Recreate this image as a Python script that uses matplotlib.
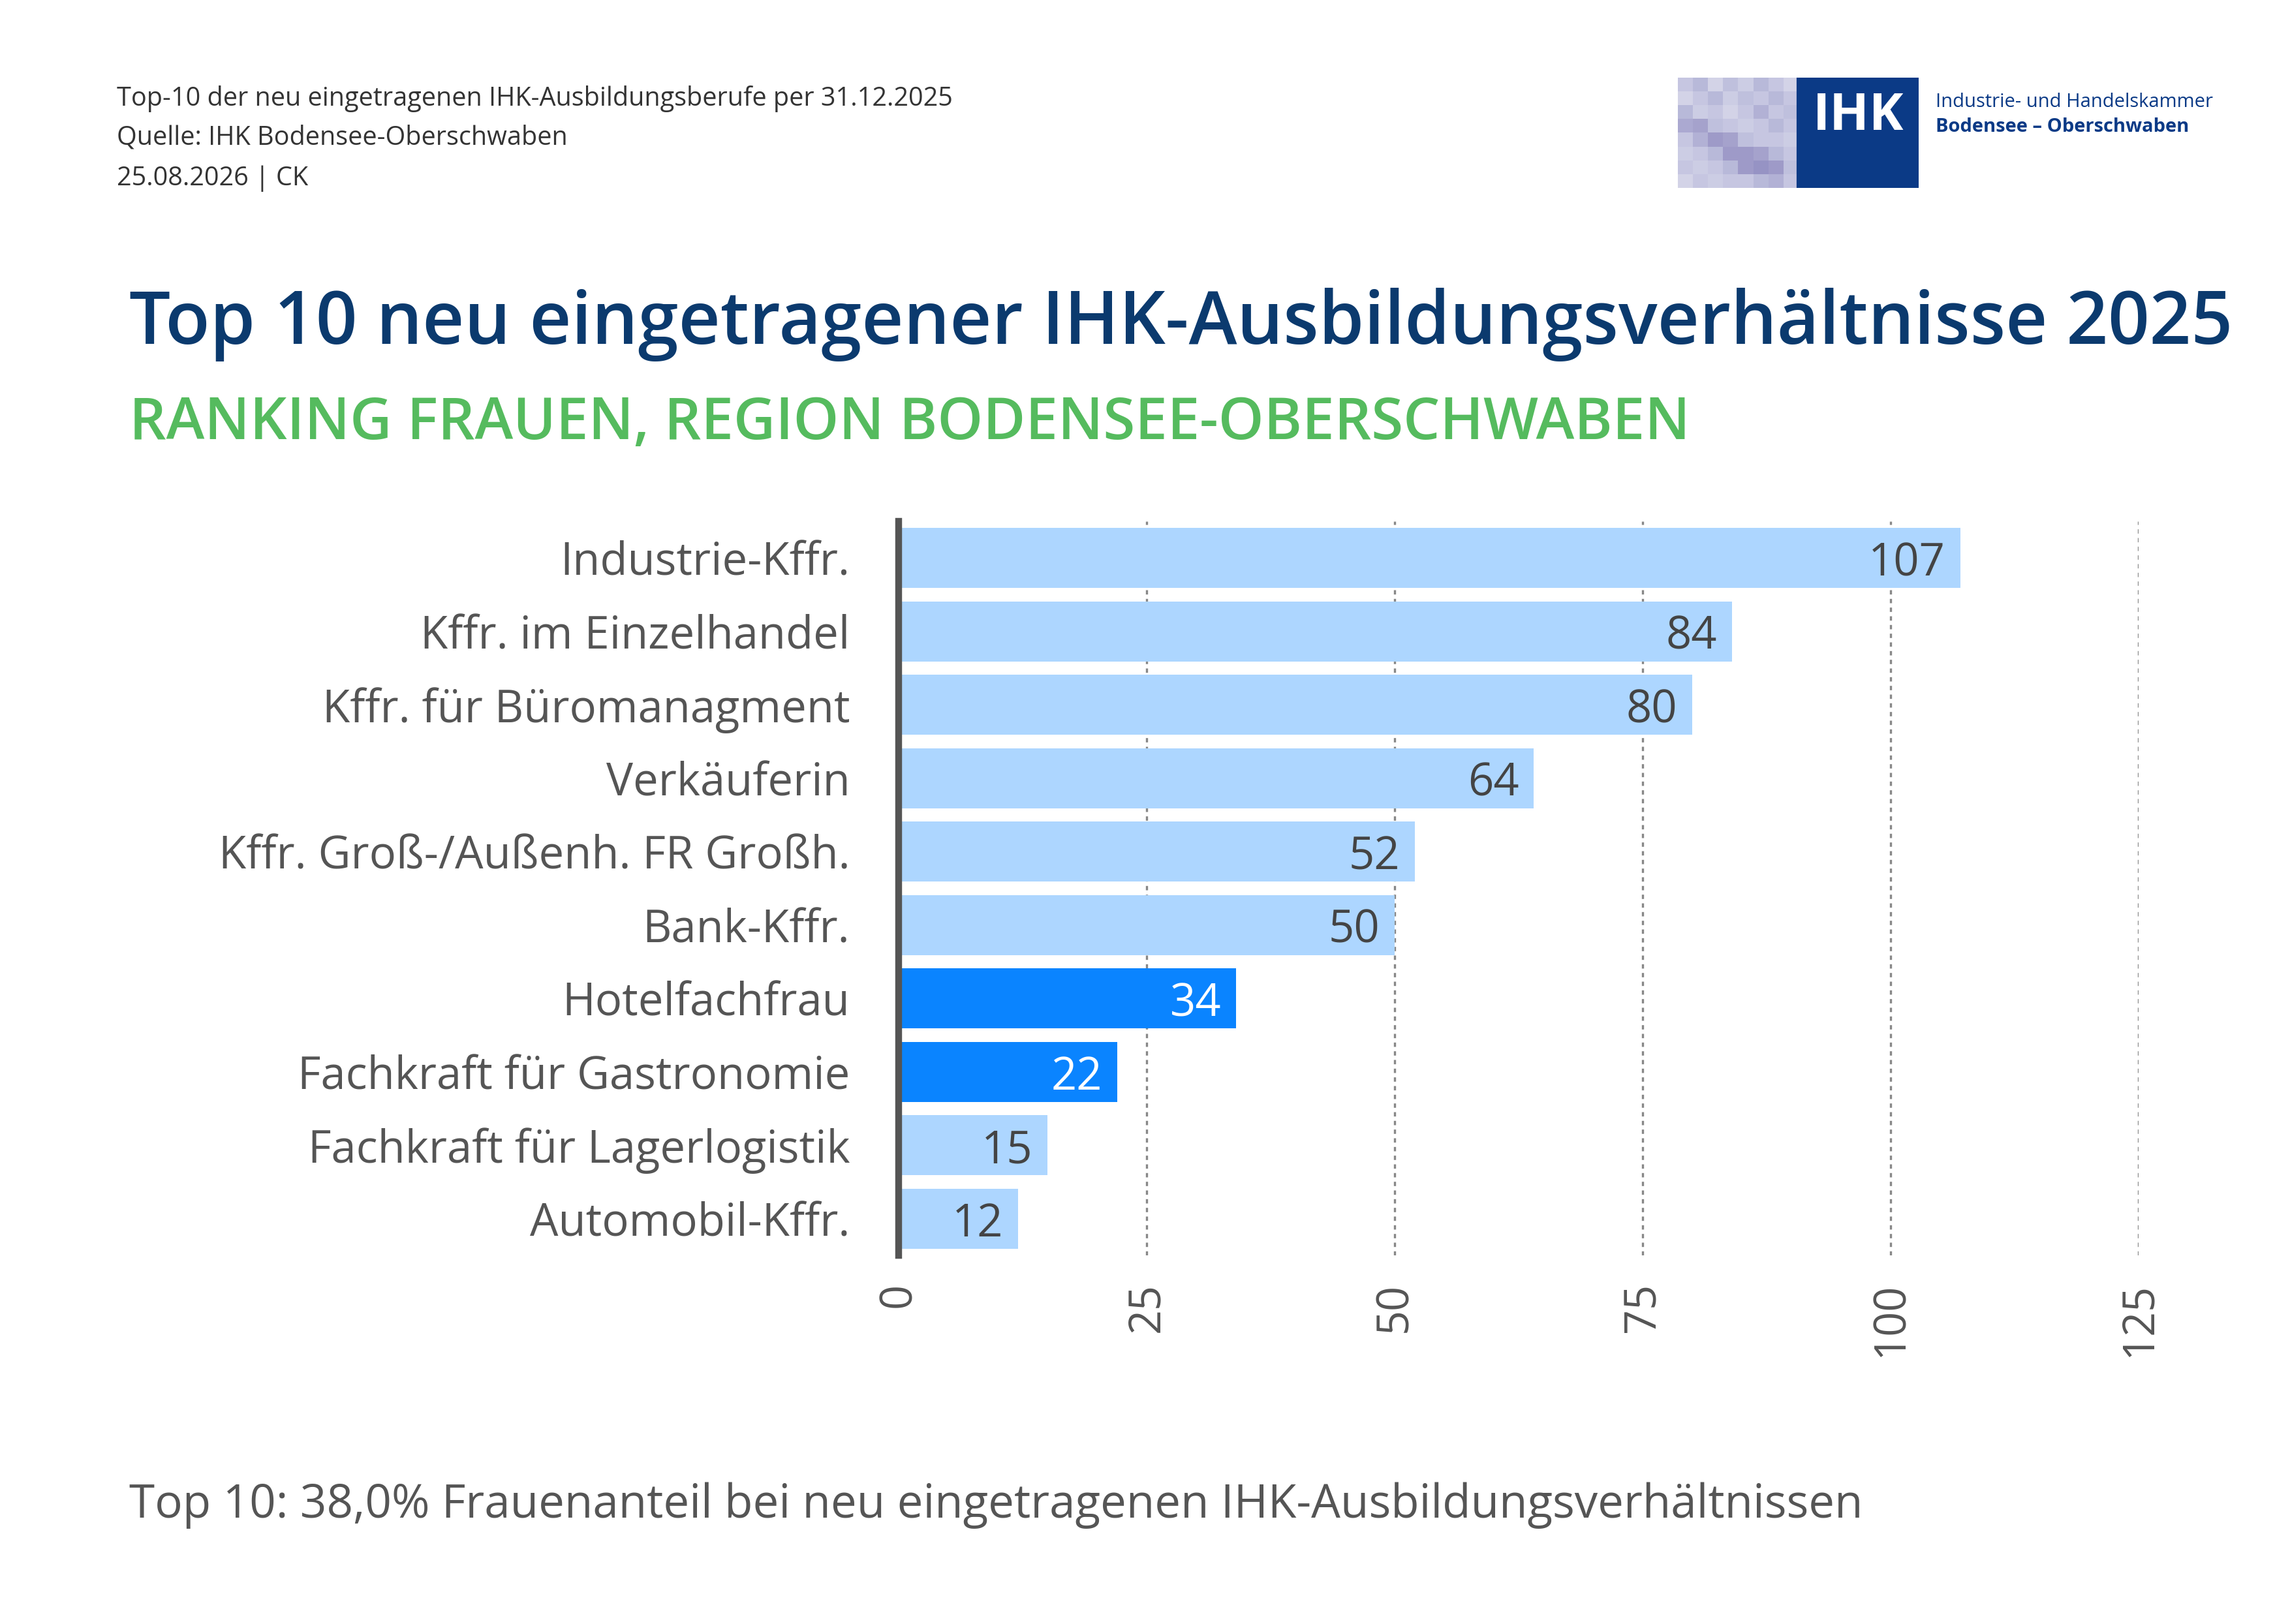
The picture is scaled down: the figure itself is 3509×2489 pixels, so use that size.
import matplotlib
matplotlib.use("Agg")
import matplotlib.pyplot as plt
import numpy as np
from matplotlib.patches import Rectangle

plt.rcParams['font.family'] = ['Open Sans', 'DejaVu Sans']

categories = ["Industrie-Kffr.", "Kffr. im Einzelhandel", "Kffr. für Büromanagment", "Verkäuferin",
              "Kffr. Groß-/Außenh. FR Großh.", "Bank-Kffr.", "Hotelfachfrau",
              "Fachkraft für Gastronomie", "Fachkraft für Lagerlogistik", "Automobil-Kffr."]
values = [107, 84, 80, 64, 52, 50, 34, 22, 15, 12]
highlight = [False, False, False, False, False, False, True, True, False, False]
ticks = [0, 25, 50, 75, 100, 125]

LIGHT = "#ADD6FF"; DARK = "#0A84FF"; GREY = "#555555"

fig = plt.figure(figsize=(3509/300, 2489/300), dpi=300)

ax = fig.add_axes([0.3925, 0.227, 0.5415, 0.452])
y = np.arange(len(categories))
cols = [DARK if h else LIGHT for h in highlight]
ax.barh(y, values, height=0.82, color=cols, zorder=2)
ax.set_ylim(len(categories) - 0.5, -0.5)
ax.set_xlim(0, 125)
ax.set_yticks(y)
ax.set_yticklabels(categories, fontsize=16.5, color=GREY)
ax.set_xticks(ticks)
ax.set_xticklabels([str(t) for t in ticks], fontsize=16, color=GREY, rotation=90)
ax.tick_params(length=0, pad=10)
ax.tick_params(axis='y', pad=18)
for s in ['top', 'right', 'bottom']:
    ax.spines[s].set_visible(False)
ax.spines['left'].set_color(GREY)
ax.spines['left'].set_linewidth(2.5)
ax.spines['left'].set_zorder(3)
ax.grid(axis='x', color='#888888', linestyle=(0, (2, 2)), linewidth=0.8, zorder=1)
ax.set_axisbelow(True)
for i, (v, h) in enumerate(zip(values, highlight)):
    ax.text(v - 1.5, i + 0.08, str(v), ha='right', va='center', fontsize=16.5,
            color='white' if h else '#444444', zorder=4)

# header
fig.text(0.051, 0.939, "Top-10 der neu eingetragenen IHK-Ausbildungsberufe per 31.12.2025", fontsize=9.5, color='#333333', va='center')
fig.text(0.051, 0.915, "Quelle: IHK Bodensee-Oberschwaben", fontsize=9.5, color='#333333', va='center')
fig.text(0.051, 0.890, "25.08.2026 | CK", fontsize=9.5, color='#333333', va='center')
fig.text(0.0564, 0.800, "Top 10 neu eingetragener IHK-Ausbildungsverhältnisse 2025", fontsize=26.8, color='#0B3A6E', va='center', weight='semibold')
fig.text(0.0564, 0.739, "RANKING FRAUEN, REGION BODENSEE-OBERSCHWABEN", fontsize=21.3, color='#55BB5E', va='center', weight='semibold')
fig.text(0.0564, 0.073, "Top 10: 38,0% Frauenanteil bei neu eingetragenen IHK-Ausbildungsverhältnissen", fontsize=17, color=GREY, va='center')

# logo
lax = fig.add_axes([0.7327, 0.8844, 0.1051, 0.0677])
lax.set_xlim(0, 2); lax.set_ylim(0, 1); lax.axis('off')
pattern = np.array([[0.6, 0.5, 0.7, 0.55, 0.65, 0.5, 0.6, 0.7],
                    [0.7, 0.6, 0.5, 0.65, 0.55, 0.6, 0.5, 0.6],
                    [0.5, 0.65, 0.6, 0.7, 0.6, 0.45, 0.6, 0.55],
                    [0.4, 0.35, 0.55, 0.6, 0.65, 0.6, 0.5, 0.6],
                    [0.6, 0.45, 0.3, 0.35, 0.55, 0.6, 0.6, 0.65],
                    [0.65, 0.6, 0.5, 0.3, 0.3, 0.35, 0.5, 0.6],
                    [0.6, 0.65, 0.6, 0.5, 0.3, 0.25, 0.3, 0.55],
                    [0.7, 0.6, 0.65, 0.6, 0.6, 0.5, 0.45, 0.6]])
lax.imshow(pattern, cmap='Purples_r', vmin=-0.6, vmax=1.2, extent=(0, 1, 0, 1), aspect='auto')
lax.add_patch(Rectangle((1, 0), 1, 1, color='#0B3A86'))
lax.text(1.5, 0.65, "IHK", color='white', fontsize=19, weight='bold', ha='center', va='center')
fig.text(0.8452, 0.937, "Industrie- und Handelskammer", fontsize=7.0, color='#0B3A86', va='center')
fig.text(0.8452, 0.922, "Bodensee – Oberschwaben", fontsize=7.0, color='#0B3A86', va='center', weight='bold')

fig.savefig("out.png", dpi=300)
